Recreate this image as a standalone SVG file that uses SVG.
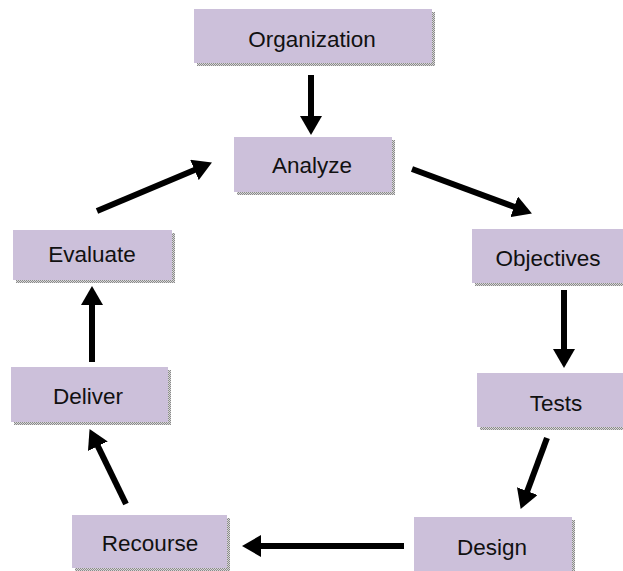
<svg xmlns="http://www.w3.org/2000/svg" width="623" height="571" viewBox="0 0 623 571">
  <defs>
    <!-- fine gray checker used for the box drop shadows -->
    <pattern id="dots" width="2" height="2" patternUnits="userSpaceOnUse">
      <rect width="2" height="2" fill="#d8d8d8"/>
      <rect width="1" height="1" fill="#8a8a8a"/>
      <rect x="1" y="1" width="1" height="1" fill="#8a8a8a"/>
    </pattern>
    <marker id="head" markerUnits="userSpaceOnUse" markerWidth="20" markerHeight="22"
            viewBox="0 0 20 22" refX="2" refY="11" orient="auto">
      <path d="M0,0 L19,11 L0,22 z" fill="#000"/>
    </marker>
    <style>
      .shadow { fill: url(#dots); }
      .box { fill: #CCC0DA; }
      .label { font-family: "Liberation Sans", Arial, sans-serif; font-size: 22.5px; fill: #111; text-anchor: middle; }
      .arrow { stroke: #000; stroke-width: 6; fill: none; marker-end: url(#head); }
    </style>
  </defs>

  <rect width="623" height="571" fill="#fff"/>

  <g id="organization">
    <rect class="shadow" x="197" y="12" width="238" height="54"/>
    <rect class="box" x="194" y="9" width="238" height="54"/>
    <text class="label" x="312" y="47">Organization</text>
  </g>

  <g id="analyze">
    <rect class="shadow" x="237" y="140" width="158" height="55"/>
    <rect class="box" x="234" y="137" width="158" height="55"/>
    <text class="label" x="312" y="173">Analyze</text>
  </g>

  <g id="objectives">
    <rect class="shadow" x="475" y="232" width="153" height="54"/>
    <rect class="box" x="472" y="229" width="153" height="54"/>
    <text class="label" x="548" y="266">Objectives</text>
  </g>

  <g id="tests">
    <rect class="shadow" x="480" y="376" width="158" height="54"/>
    <rect class="box" x="477" y="373" width="158" height="54"/>
    <text class="label" x="556" y="411">Tests</text>
  </g>

  <g id="design">
    <rect class="shadow" x="417" y="520" width="158" height="56"/>
    <rect class="box" x="414" y="517" width="158" height="56"/>
    <text class="label" x="492" y="555">Design</text>
  </g>

  <g id="recourse">
    <rect class="shadow" x="75" y="518" width="155" height="53"/>
    <rect class="box" x="72" y="515" width="155" height="53"/>
    <text class="label" x="150" y="551">Recourse</text>
  </g>

  <g id="deliver">
    <rect class="shadow" x="14" y="370" width="157" height="55"/>
    <rect class="box" x="11" y="367" width="157" height="55"/>
    <text class="label" x="88" y="404">Deliver</text>
  </g>

  <g id="evaluate">
    <rect class="shadow" x="16" y="233" width="159" height="50"/>
    <rect class="box" x="13" y="230" width="159" height="50"/>
    <text class="label" x="92" y="262">Evaluate</text>
  </g>

  <g id="connectors">
    <line class="arrow" x1="311" y1="75" x2="311" y2="118"/>
    <line class="arrow" x1="412" y1="169" x2="516" y2="207.5"/>
    <line class="arrow" x1="564" y1="290" x2="564" y2="351"/>
    <line class="arrow" x1="547" y1="438" x2="526.6" y2="493"/>
    <line class="arrow" x1="404" y1="546" x2="259" y2="546"/>
    <line class="arrow" x1="126" y1="504" x2="97" y2="444.4"/>
    <line class="arrow" x1="92" y1="362" x2="92" y2="303"/>
    <line class="arrow" x1="97" y1="211" x2="196.3" y2="169.2"/>
  </g>
</svg>
